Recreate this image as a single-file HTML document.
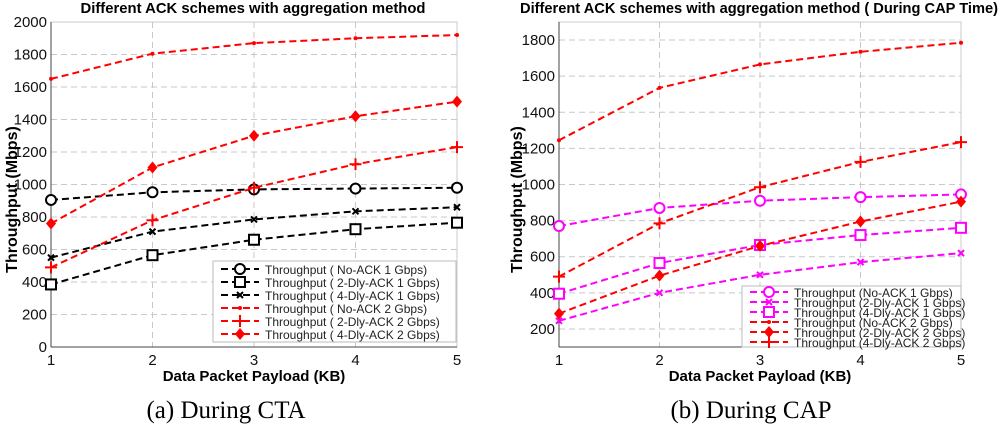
<!DOCTYPE html>
<html><head><meta charset="utf-8"><style>
html,body{margin:0;padding:0;background:#fff;}
svg{display:block;font-family:"Liberation Sans",Arial,sans-serif;}
</style></head><body>
<svg id="svg" width="1000" height="426" viewBox="0 0 1000 426" xmlns="http://www.w3.org/2000/svg"></svg>
<script>
const xCats=[1,2,3,4,5];
// Left chart (a)
const aTicks=[0,200,400,600,800,1000,1200,1400,1600,1800,2000];
const aNoAck1=[905,952,970,975,980];
const a2Dly1=[385,565,660,725,765];
const a4Dly1=[550,710,785,835,860];
const aNoAck2=[1650,1805,1870,1900,1920];
const a2Dly2=[490,780,980,1125,1230];
const a4Dly2=[760,1105,1300,1420,1510];
// Right chart (b)
const bTicks=[200,400,600,800,1000,1200,1400,1600,1800];
const bNoAck1=[770,870,910,930,945];
const b2Dly1=[245,400,500,570,620];
const b4Dly1=[395,565,665,720,760];
const bNoAck2=[1245,1535,1665,1735,1785];
const b2Dly2=[285,495,660,795,905];
const b4Dly2=[490,785,985,1125,1235];

const NS="http://www.w3.org/2000/svg";
const svg=document.getElementById('svg');
function mk(tag,attrs,parent){const e=document.createElementNS(NS,tag);for(const k in attrs)e.setAttribute(k,attrs[k]);(parent||svg).appendChild(e);return e;}
function txt(s,attrs,parent){const e=mk('text',attrs,parent);e.textContent=s;return e;}

function marker(g,type,x,y,color){
  let e;
  if(type==='circle'){e=mk('circle',{cx:x,cy:y,r:5,fill:'#fff',stroke:color,'stroke-width':2},g);}
  else if(type==='square'){e=mk('rect',{x:x-5,y:y-5,width:10,height:10,fill:'#fff',stroke:color,'stroke-width':2},g);}
  else if(type==='x'){e=mk('path',{d:`M${x-3} ${y-3}L${x+3} ${y+3}M${x-3} ${y+3}L${x+3} ${y-3}`,stroke:color,'stroke-width':2},g);}
  else if(type==='dot'){e=mk('circle',{cx:x,cy:y,r:2,fill:color},g);}
  else if(type==='plus'){e=mk('path',{d:`M${x-6} ${y}L${x+6} ${y}M${x} ${y-6}L${x} ${y+6}`,stroke:color,'stroke-width':2},g);}
  else if(type==='diamond'){e=mk('path',{d:`M${x} ${y-6}L${x+5} ${y}L${x} ${y+6}L${x-5} ${y}Z`,fill:color},g);}
  
  
}

function chart(cfg){
  const g=mk('g',{});
  
  
  const {x0,x1,y0,y1,vmin,vmax}=cfg;
  const X=v=>x0+(v-1)/(4)*(x1-x0);
  const Y=v=>y0-(v-vmin)/(vmax-vmin)*(y0-y1);
  mk('rect',{x:x0,y:y1,width:x1-x0,height:y0-y1,fill:'#fff',stroke:'#ccc','stroke-width':1},g);
  cfg.ticks.forEach(t=>{
    const y=Y(t);
    const l=mk('line',{x1:x0,x2:x1,y1:y,y2:y,stroke:'#c8c8c8','stroke-dasharray':'6,4'},g);
    
    const tl=txt(String(t),{x:x0-4,y:y+5,'text-anchor':'end','font-size':15,fill:'#111'},g);
    
  });
  xCats.forEach(c=>{
    const x=X(c);
    const l=mk('line',{x1:x,x2:x,y1:y1,y2:y0,stroke:'#c8c8c8','stroke-dasharray':'6,4'},g);
    
    const tl=txt(String(c),{x:x,y:y0+18,'text-anchor':'middle','font-size':15,fill:'#111'},g);
    
  });
  mk('line',{x1:x0,x2:x0,y1:y1,y2:y0,stroke:'#444'},g);
  mk('line',{x1:x0,x2:x1,y1:y0,y2:y0,stroke:'#444'},g);
  cfg.series.forEach(s=>{
    const sg=mk('g',{},g);
    
    
    const pts=s.data.map((v,i)=>X(xCats[i])+','+Y(v)).join(' ');
    mk('polyline',{points:pts,fill:'none',stroke:s.color,'stroke-width':2,'stroke-dasharray':'7,4'},sg);
    s.data.forEach((v,i)=>marker(sg,s.m,X(xCats[i]),Y(v),s.color));
  });
  const t=txt(cfg.title,{x:cfg.titleX,y:13,'text-anchor':'middle','font-size':15,'font-weight':'bold',textLength:cfg.titleW,lengthAdjust:'spacingAndGlyphs'},g);
  
  const xl=txt('Data Packet Payload (KB)',{x:(x0+x1)/2,y:381,'text-anchor':'middle','font-size':15,'font-weight':'bold'},g);
  
  const yl=txt('Throughput (Mbps)',{x:0,y:0,'text-anchor':'middle','font-size':16,'font-weight':'bold',transform:`translate(${cfg.ylX},${(y0+y1)/2+15}) rotate(-90)`},g);
  
  const cap=txt(cfg.caption,{x:cfg.capX,y:418,'text-anchor':'middle','font-size':25,'font-family':'Liberation Serif, serif'},g);
  
  const L=cfg.legend;
  const lg=mk('g',{},g);
  
  mk('rect',{x:L.x,y:L.y,width:L.w,height:L.h,fill:'#fff',stroke:'#bbb'},lg);
  cfg.series.forEach((s,i)=>{
    const y=L.y+L.pad+i*L.step;
    const e=mk('g',{},lg);
    
    mk('line',{x1:L.x+8,x2:L.x+46,y1:y,y2:y,stroke:s.color,'stroke-width':2,'stroke-dasharray':'7,4'},e);
    marker(e,s.m,L.x+27,y,s.color);
    txt(s.label,{x:L.x+52,y:y+5,'font-size':L.fs,fill:'#222'},e);
  });
}

chart({name:'chart-cta',x0:51,x1:457,y0:347,y1:22,vmin:0,vmax:2000,ticks:aTicks,
  title:'Different ACK schemes with aggregation method',titleX:253,titleW:345,ylX:17,caption:'(a) During CTA',capX:226,
  legend:{x:213,y:261,w:243,h:81,pad:8,step:13,fs:12},
  series:[
   {id:'series-noack-1g',data:aNoAck1,color:'#000',m:'circle',label:'Throughput ( No-ACK 1 Gbps)'},
   {id:'series-2dly-1g',data:a2Dly1,color:'#000',m:'square',label:'Throughput ( 2-Dly-ACK 1 Gbps)'},
   {id:'series-4dly-1g',data:a4Dly1,color:'#000',m:'x',label:'Throughput ( 4-Dly-ACK 1 Gbps)'},
   {id:'series-noack-2g',data:aNoAck2,color:'#ff0000',m:'dot',label:'Throughput ( No-ACK 2 Gbps)'},
   {id:'series-2dly-2g',data:a2Dly2,color:'#ff0000',m:'plus',label:'Throughput ( 2-Dly-ACK 2 Gbps)'},
   {id:'series-4dly-2g',data:a4Dly2,color:'#ff0000',m:'diamond',label:'Throughput ( 4-Dly-ACK 2 Gbps)'}]});

chart({name:'chart-cap',x0:559,x1:961,y0:347,y1:22,vmin:100,vmax:1900,ticks:bTicks,
  title:'Different ACK schemes with aggregation method ( During CAP Time)',titleX:759,titleW:478,ylX:522,caption:'(b) During CAP',capX:751,
  legend:{x:742,y:286,w:219,h:61,pad:6,step:10,fs:12},
  series:[
   {id:'series-noack-1g',data:bNoAck1,color:'#ff00ff',m:'circle',label:'Throughput (No-ACK 1 Gbps)'},
   {id:'series-2dly-1g',data:b2Dly1,color:'#ff00ff',m:'x',label:'Throughput (2-Dly-ACK 1 Gbps)'},
   {id:'series-4dly-1g',data:b4Dly1,color:'#ff00ff',m:'square',label:'Throughput (4-Dly-ACK 1 Gbps)'},
   {id:'series-noack-2g',data:bNoAck2,color:'#ff0000',m:'dot',label:'Throughput (No-ACK 2 Gbps)'},
   {id:'series-2dly-2g',data:b2Dly2,color:'#ff0000',m:'diamond',label:'Throughput (2-Dly-ACK 2 Gbps)'},
   {id:'series-4dly-2g',data:b4Dly2,color:'#ff0000',m:'plus',label:'Throughput (4-Dly-ACK 2 Gbps)'}]});
</script>
</body></html>
